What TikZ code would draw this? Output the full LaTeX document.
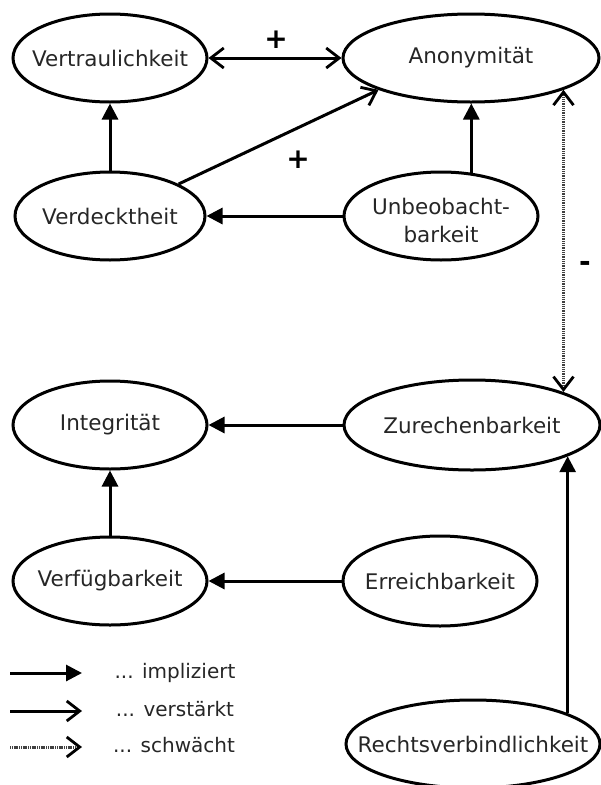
\documentclass[tikz,border=0pt]{standalone}
\usepackage{fontspec}
\setmainfont{DejaVu Sans}
\usetikzlibrary{arrows.meta,shapes.geometric}
\newcommand{\nb}[1]{\makebox[0pt]{#1}}
\begin{document}
\begin{tikzpicture}[x=1pt,y=-1pt,
  ell/.style={ellipse,draw,line width=3pt,inner sep=0pt,minimum width=194pt,minimum height=88pt,font=\fontsize{21.5}{28}\selectfont,text=black!85},
  wide/.style={minimum width=256pt},
  impl/.style={line width=3pt,-{Triangle[length=16pt,width=16pt]}},
  barb/.tip={Straight Barb[length=13pt,width=20pt,line width=2.8pt,color=black]},
  verst/.style={line width=3pt,-barb},
  verstb/.style={line width=3pt,barb-barb},
  dotline/.style={line width=3pt,draw=black!75,dash pattern=on 1.1pt off 0.7pt},
  lbl/.style={font=\fontsize{28}{30}\selectfont\bfseries,inner sep=0pt},
  legtxt/.style={font=\fontsize{20}{24}\selectfont,text=black!85,inner sep=0pt}]
\useasboundingbox (0,0) rectangle (601,785);
\node[ell] (vertr) at (110,58) {\nb{Vertraulichkeit}};
\node[ell,wide] (anon) at (471,58) {\nb{Anonymität}};
\node[ell,minimum width=190pt] (verd) at (110,216) {\nb{Verdecktheit}};
\node[ell] (unb) at (441,216) {\nb{\raisebox{-12pt}[0pt][0pt]{\begin{tabular}{@{}c@{}}Unbeobacht-\\barkeit\end{tabular}}}};
\node[ell] (integ) at (110,425) {\nb{Integrität}};
\node[ell,wide,minimum height=90pt] (zur) at (472,425) {\nb{Zurechenbarkeit}};
\node[ell] (verf) at (110,581) {\nb{Verfügbarkeit}};
\node[ell,minimum height=90pt] (erre) at (440,581) {\nb{Erreichbarkeit}};
\node[ell,minimum width=254pt] (rechts) at (473,744) {\nb{Rechtsverbindlichkeit}};

\draw[verstb] (vertr.east) -- (anon.west);
\draw[impl] (verd.north) -- (vertr.south);
\draw[verst] (verd.25) -- (anon.199);
\draw[impl] (unb.55) -- (unb.55 |- anon.south);
\draw[impl] (unb.west) -- (verd.east);
\draw[dotline,barb-barb] (anon.-19) -- (anon.-19 |- zur.20);
\draw[impl] (zur.west) -- (integ.east);
\draw[impl] (verf.north) -- (integ.south);
\draw[impl] (erre.west) -- (verf.east);
\draw[impl] (rechts.18) -- (rechts.18 |- zur.-18);

\node[lbl] (plusa) at (276,40) {+};
\node[lbl] (plusb) at (298,160) {+};
\node[lbl] (minus) at (585,266) {-};

\coordinate (la1) at (10,673); \coordinate (lb1) at (82,673);
\coordinate (la2) at (10,711); \coordinate (lb2) at (82,711);
\coordinate (la3) at (10,747); \coordinate (lb3) at (82,747);
\draw[impl] (la1) -- (lb1);
\draw[verst] (la2) -- (lb2);
\draw[dotline,-barb] (la3) -- (lb3);
\node[legtxt] (t1) at (175,673) {... impliziert};
\node[legtxt] (t2) at (175,709) {... verstärkt};
\node[legtxt] (t3) at (174,745) {... schwächt};
\end{tikzpicture}
\end{document}
